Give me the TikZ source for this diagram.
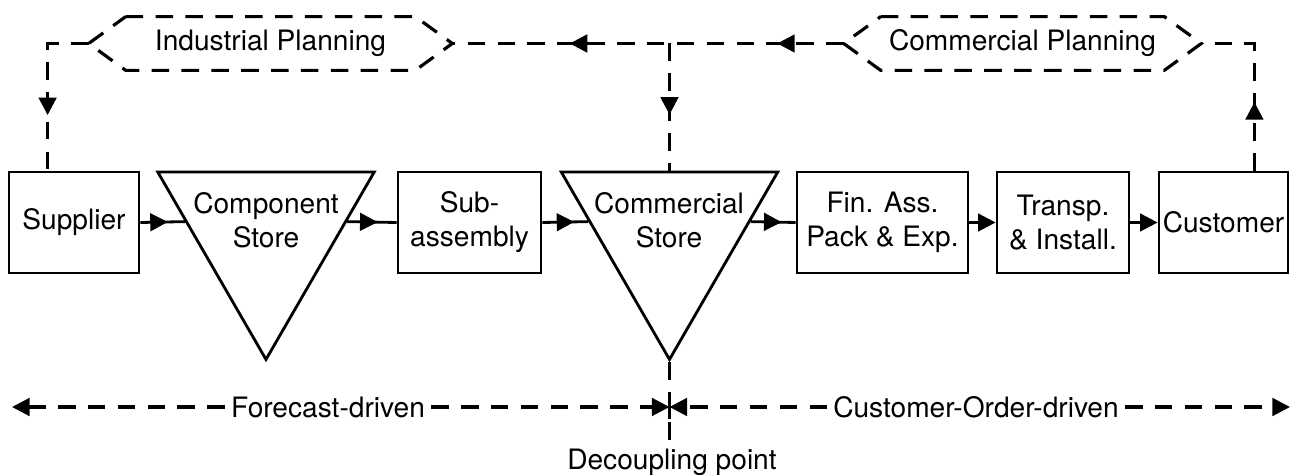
\documentclass[tikz,border=0pt]{standalone}
\usepackage{fontspec}
\setmainfont{TeX Gyre Heros}
\usetikzlibrary{shapes.geometric,arrows.meta,decorations.markings}

\tikzset{
  box/.style={draw, line width=1.6pt, minimum height=2.02cm, inner sep=2pt, align=center},
  store/.style={draw, line width=1.6pt, regular polygon, regular polygon sides=3,
    shape border rotate=180, minimum size=5cm, inner sep=0pt},
  plan/.style={minimum height=1.06cm, inner sep=0pt},
  planline/.style={line width=1.8pt, dash pattern=on 10pt off 7pt},
  flowline/.style={line width=1.6pt},
  tip/.tip={Triangle[length=10pt,width=10pt]},
  arrowat/.style={postaction={decorate, decoration={markings,
    mark=at position #1 with {\arrow{Triangle[length=10pt,width=10pt]}}}}},
  drive/.style={planline, -{Triangle[length=10pt,width=10pt]}}
}

\begin{document}
\begin{tikzpicture}[x=0.02cm, y=-0.02cm, font=\fontsize{16}{19.3}\selectfont]
    \useasboundingbox (0,0) rectangle (1292,475);

    % planning
    \node[plan, minimum width=5.78cm] (ind) at (270.5,43.5) {Industrial Planning};
    \node[plan, minimum width=5.66cm] (com) at (1022.5,43.5) {Commercial Planning};
    \coordinate (indl) at ([xshift=-0.74cm]ind.west);
    \coordinate (indr) at ([xshift=0.74cm]ind.east);
    \coordinate (coml) at ([xshift=-0.74cm]com.west);
    \coordinate (comr) at ([xshift=0.74cm]com.east);

    \draw[planline] (ind.north west) -- (ind.north east) -- (indr) -- (ind.south east)
        -- (ind.south west) -- (indl) -- cycle;
    \draw[planline] (com.north west) -- (com.north east) -- (comr) -- (com.south east)
        -- (com.south west) -- (coml) -- cycle;

    % chain
    \node[box, minimum width=2.6cm] (sup) at (74,222.5) {Supplier};
    \node[store] (cst) at (266,234.5) {};
    \node[align=center] (csttxt) at (266,220) {Component\\Store};
    \node[box, minimum width=2.86cm] (sub) at (469.5,222.5) {Sub-\\assembly};
    \node[store] (cmst) at (669.5,234.5) {};
    \node[align=center] (cmsttxt) at (669,220) {Commercial\\Store};
    \node[box, minimum width=3.42cm] (fin) at (882.5,222.5) {Fin. Ass.\\Pack \& Exp.};
    \node[box, minimum width=2.64cm] (trn) at (1063,222.5) {Transp.\\\& Install.};
    \node[box, minimum width=2.58cm] (cus) at (1223.5,222.5) {Customer};

    \draw[flowline, arrowat=-0.34cm] (sup.east) -- (cst.171);
    \draw[flowline, arrowat=-0.38cm] (cst.9) -- (sub.west);
    \draw[flowline, arrowat=-0.28cm] (sub.east) -- (cmst.171);
    \draw[flowline, arrowat=-0.28cm] (cmst.9) -- (fin.west);
    \draw[flowline, -tip] (fin) -- (trn);
    \draw[flowline, -tip] (trn) -- (cus);

    % planning lines
    \coordinate (jn) at (cmst.north |- com.west);
    \coordinate (supin) at ([xshift=0.8cm]sup.north west);
    \coordinate (cusout) at ([xshift=-0.7cm]cus.north east);

    \draw[planline, arrowat=0.17, arrowat=0.70] (coml) -- (indr);
    \draw[planline, arrowat=0.67] (indl) -| (supin);
    \draw[planline, arrowat=0.56] (jn) -- (cmst.north);
    \draw[planline, arrowat=0.38] (cusout) |- (comr);

    % decoupling
    \node (fcst) at (328,407) {Forecast-driven};
    \node (cod) at (976,407) {Customer-Order-driven};
    \node (dec) at (672,462) {Decoupling point};
    \coordinate (dp) at (cmst.south |- fcst);
    \coordinate (fl) at (12,407);
    \coordinate (fr) at (1290,407);

    \draw[drive] (fcst) -- (fl);
    \draw[drive] (fcst) -- (dp);
    \draw[drive] (cod) -- (dp);
    \draw[drive] (cod) -- (fr);
    \draw[planline] (cmst.south) -- (cmst.south |- dec.north);
    \draw[flowline] ([yshift=0.24cm]dp) -- ([yshift=-0.24cm]dp);
\end{tikzpicture}
\end{document}
